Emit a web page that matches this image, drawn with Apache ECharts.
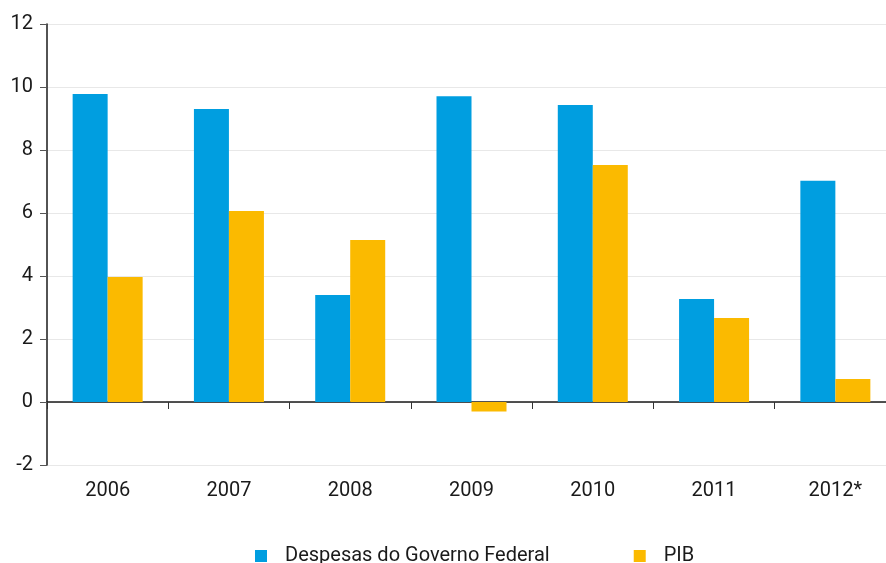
<!DOCTYPE html>
<html>
<head>
<meta charset="utf-8">
<script src="https://cdn.jsdelivr.net/npm/echarts@6/dist/echarts.min.js"></script>
<style>
  html, body { margin: 0; padding: 0; background: #fff; }
  #chart { width: 886px; height: 563px; }
</style>
</head>
<body>
<div id="chart"></div>
<script>
// anos e valores (%)
var anos = ["2006", "2007", "2008", "2009", "2010", "2011", "2012*"];
var despesas = [9.78, 9.3, 3.4, 9.71, 9.43, 3.27, 7.02];
var pib = [3.97, 6.06, 5.14, -0.3, 7.52, 2.67, 0.73];
var fonte = "Roboto, sans-serif";

var chart = echarts.init(document.getElementById("chart"));
chart.setOption({
  animation: false,
  color: ["#009ee0", "#fbba00"],
  textStyle: { fontFamily: fonte },
  grid: { left: 47, top: 24, right: -10, bottom: 98, outerBoundsMode: "none", containLabel: false },
  legend: {
    top: 541,
    left: 250,
    itemWidth: 12,
    itemHeight: 12,
    itemGap: 84,
    icon: "rect",
    textStyle: { fontSize: 20, color: "#1a1a1a", fontFamily: fonte, padding: [0, 0, 0, 13] },
    data: ["Despesas do Governo Federal", "PIB"]
  },
  xAxis: {
    type: "category",
    data: anos,
    axisLine: { onZero: true, lineStyle: { color: "#1a1a1a", width: 1.5 } },
    axisTick: { show: true, length: 7, lineStyle: { color: "#333" } },
    axisLabel: { fontSize: 20, color: "#1a1a1a", fontFamily: fonte, margin: 16 }
  },
  yAxis: {
    type: "value",
    min: -2,
    max: 12,
    interval: 2,
    axisLine: { show: true, lineStyle: { color: "#1a1a1a", width: 1.5 } },
    axisTick: { show: true, length: 7, lineStyle: { color: "#555" } },
    axisLabel: { fontSize: 20, color: "#1a1a1a", fontFamily: fonte, margin: 14 },
    splitLine: { lineStyle: { color: "#e8e8e8" } }
  },
  series: [
    {
      name: "Despesas do Governo Federal",
      type: "bar",
      barWidth: 35,
      barGap: "0%",
      data: despesas
    },
    {
      name: "PIB",
      type: "bar",
      barWidth: 35,
      barGap: "0%",
      data: pib
    }
  ]
});
</script>
</body>
</html>
